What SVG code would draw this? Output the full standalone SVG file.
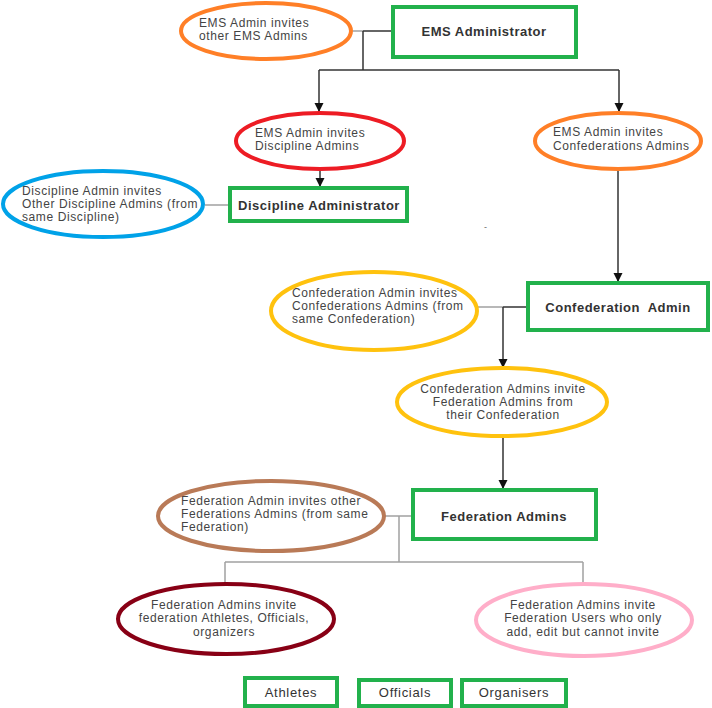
<svg xmlns="http://www.w3.org/2000/svg" width="712" height="708" viewBox="0 0 712 708">
<defs>
<style>
.bg{fill:#ffffff}
.box{fill:#ffffff;stroke:#22b14c;stroke-width:4}
.ell{fill:#ffffff;stroke-width:4}
.t{font-family:"Liberation Sans",Arial,sans-serif;font-size:12px;letter-spacing:0.6px;fill:#444444}
.b{font-family:"Liberation Sans",Arial,sans-serif;font-size:13px;font-weight:bold;letter-spacing:0.5px;fill:#333333;white-space:pre}
.s{font-family:"Liberation Sans",Arial,sans-serif;font-size:13px;letter-spacing:0.7px;fill:#333333}
.blk{fill:none;stroke:#333333;stroke-width:1.5}
.gry{fill:none;stroke:#a0a0a0;stroke-width:1.5}
.arr{fill:none;stroke:#333333;stroke-width:1.5;marker-end:url(#ah)}
</style>
<marker id="ah" markerUnits="userSpaceOnUse" markerWidth="10" markerHeight="10" refX="9" refY="5" orient="auto" viewBox="0 0 10 10">
<path d="M0,0.5 L9,5 L0,9.5 Z" fill="#111111"/>
</marker>
</defs>
<rect class="bg" x="0" y="0" width="712" height="708"/>

<g id="connectors">
<path class="gry" d="M353,31 H363"/>
<path class="blk" d="M363,31 H392"/>
<path class="blk" d="M363,31 V70"/>
<path class="blk" d="M319,70 H619"/>
<path class="arr" d="M319,70 V112"/>
<path class="arr" d="M619,70 V112"/>
<path class="arr" d="M320,170 V187"/>
<path class="gry" d="M205,205 H229"/>
<path class="arr" d="M618,170 V282"/>
<path class="gry" d="M478,307 H503"/>
<path class="blk" d="M503,307 H527"/>
<path class="arr" d="M503,307 V368"/>
<path class="arr" d="M503,437 V489"/>
<path class="gry" d="M385,516 H412"/>
<path class="gry" d="M399,516 V562"/>
<path class="gry" d="M225,562 H583"/>
<path class="gry" d="M225,562 V583"/>
<path class="gry" d="M583,562 V583"/>
</g>

<g id="ems-invites-ems">
<ellipse class="ell" cx="266" cy="31" rx="85" ry="28" stroke="#ff7f27"/>
<text class="t" x="199" y="27">EMS Admin invites</text>
<text class="t" x="199" y="40">other EMS Admins</text>
</g>

<g id="ems-admin">
<rect class="box" x="393" y="7" width="183" height="50"/>
<text class="b" x="484" y="36" text-anchor="middle">EMS Administrator</text>
</g>

<g id="ems-invites-discipline">
<ellipse class="ell" cx="320" cy="141" rx="84" ry="28" stroke="#ed1c24"/>
<text class="t" x="255" y="137">EMS Admin invites</text>
<text class="t" x="255" y="150">Discipline Admins</text>
</g>

<g id="ems-invites-confed">
<ellipse class="ell" cx="618" cy="141" rx="83" ry="28" stroke="#ff7f27"/>
<text class="t" x="553" y="136">EMS Admin invites</text>
<text class="t" x="553" y="150">Confederations Admins</text>
</g>

<g id="discipline-invites">
<ellipse class="ell" cx="103" cy="204" rx="100" ry="33" stroke="#00a2e8"/>
<text class="t" x="22" y="195">Discipline Admin invites</text>
<text class="t" x="22" y="208">Other Discipline Admins (from</text>
<text class="t" x="22" y="221">same Discipline)</text>
</g>

<g id="discipline-admin">
<rect class="box" x="230" y="188" width="177" height="33"/>
<text class="b" x="319" y="210" text-anchor="middle">Discipline Administrator</text>
</g>

<g id="stray">
<text class="t" x="484" y="230" style="font-size:9px;fill:#666666">-</text>
</g>

<g id="confed-invites-confed">
<ellipse class="ell" cx="374" cy="311" rx="103" ry="39" stroke="#ffc20e"/>
<text class="t" x="292" y="297">Confederation Admin invites</text>
<text class="t" x="292" y="310">Confederations Admins (from</text>
<text class="t" x="292" y="323">same Confederation)</text>
</g>

<g id="confed-admin">
<rect class="box" x="528" y="283" width="180" height="47"/>
<text class="b" x="618" y="312" text-anchor="middle">Confederation  Admin</text>
</g>

<g id="confed-invites-fed">
<ellipse class="ell" cx="502" cy="402" rx="105" ry="34" stroke="#ffc20e"/>
<text class="t" x="503" y="393" text-anchor="middle">Confederation Admins invite</text>
<text class="t" x="503" y="406" text-anchor="middle">Federation Admins from</text>
<text class="t" x="503" y="419" text-anchor="middle">their Confederation</text>
</g>

<g id="fed-invites-fed">
<ellipse class="ell" cx="271" cy="516" rx="113" ry="35" stroke="#b97a57"/>
<text class="t" x="181" y="505">Federation Admin invites other</text>
<text class="t" x="181" y="518">Federations Admins (from same</text>
<text class="t" x="181" y="531">Federation)</text>
</g>

<g id="fed-admins">
<rect class="box" x="413" y="490" width="183" height="49"/>
<text class="b" x="504" y="521" text-anchor="middle">Federation Admins</text>
</g>

<g id="fed-invites-athletes">
<ellipse class="ell" cx="226" cy="619" rx="108" ry="35" stroke="#880015"/>
<text class="t" x="224" y="609" text-anchor="middle">Federation Admins invite</text>
<text class="t" x="224" y="622" text-anchor="middle">federation Athletes, Officials,</text>
<text class="t" x="224" y="636" text-anchor="middle">organizers</text>
</g>

<g id="fed-invites-users">
<ellipse class="ell" cx="584" cy="620" rx="108" ry="36" stroke="#ffaec9"/>
<text class="t" x="583" y="609" text-anchor="middle">Federation Admins invite</text>
<text class="t" x="583" y="622" text-anchor="middle">Federation Users who only</text>
<text class="t" x="583" y="636" text-anchor="middle">add, edit but cannot invite</text>
</g>

<g id="athletes">
<rect class="box" x="245" y="678" width="92" height="28"/>
<text class="s" x="291" y="697" text-anchor="middle">Athletes</text>
</g>

<g id="officials">
<rect class="box" x="359" y="680" width="92" height="26"/>
<text class="s" x="405" y="697" text-anchor="middle">Officials</text>
</g>

<g id="organisers">
<rect class="box" x="462" y="680" width="104" height="26"/>
<text class="s" x="514" y="697" text-anchor="middle">Organisers</text>
</g>
</svg>
